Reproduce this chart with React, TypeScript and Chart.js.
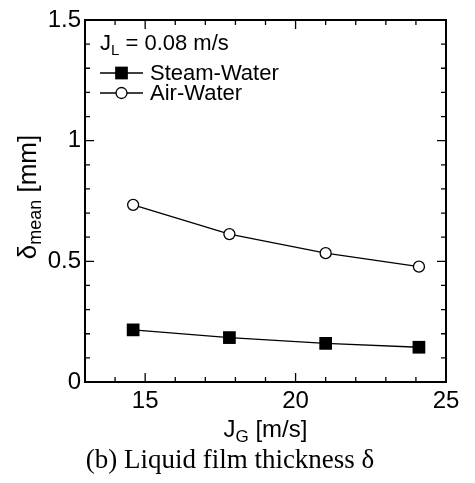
import React, { useEffect, useRef } from "react";
import { Chart, registerables } from "chart.js";

Chart.register(...registerables);

// ---- data ----
const jG = [14.6, 17.8, 21.0, 24.1];
const steamWater = [0.216, 0.184, 0.16, 0.144];
const airWater = [0.734, 0.613, 0.534, 0.478];
const seriesNames = ["Steam-Water", "Air-Water"];
const xTicks = [15, 20, 25];
const xTickLabels = ["15", "20", "25"];
const yTicks = [0, 0.5, 1, 1.5];
const yTickLabels = ["0", "0.5", "1", "1.5"];
const xRange = [13, 25];
const yRange = [0, 1.5];
const conditionText = { main: "J", sub: "L", rest: " = 0.08 m/s" };
const xTitle = { main: "J", sub: "G", rest: " [m/s]" };
const yTitle = { main: "\u03b4", sub: "mean", rest: " [mm]" };
const caption = "(b) Liquid film thickness \u03b4";

const SANS = '"Liberation Sans", Arial, Helvetica, sans-serif';
const SERIF = '"Liberation Serif", "Times New Roman", serif';

const SQ_R = 9;
const CI_R = 5.5;

function drawSubText(
  ctx: CanvasRenderingContext2D,
  parts: { main: string; sub: string; rest: string },
  x: number,
  y: number,
  size: number,
  subSize: number,
  subShift: number,
  align: "left" | "center"
) {
  ctx.textBaseline = "alphabetic";
  ctx.textAlign = "left";
  ctx.font = `${size}px ${SANS}`;
  const w1 = ctx.measureText(parts.main).width;
  const w3 = ctx.measureText(parts.rest).width;
  ctx.font = `${subSize}px ${SANS}`;
  const w2 = ctx.measureText(parts.sub).width;
  const total = w1 + w2 + w3;
  let cx = align === "center" ? x - total / 2 : x;
  ctx.font = `${size}px ${SANS}`;
  ctx.fillText(parts.main, cx, y);
  cx += w1;
  ctx.font = `${subSize}px ${SANS}`;
  ctx.fillText(parts.sub, cx, y + subShift);
  cx += w2;
  ctx.font = `${size}px ${SANS}`;
  ctx.fillText(parts.rest, cx, y);
}

const decorPlugin = {
  id: "decor",
  afterDraw(chart: any) {
    const ctx: CanvasRenderingContext2D = chart.ctx;
    const { left, right, top, bottom } = chart.chartArea;
    const xs = chart.scales.x;
    const ys = chart.scales.y;
    ctx.save();
    ctx.strokeStyle = "#000";
    ctx.fillStyle = "#000";

    // ticks
    ctx.lineWidth = 1.3;
    ctx.beginPath();
    for (let i = xRange[0]; i <= xRange[1]; i++) {
      const px = xs.getPixelForValue(i);
      const len = i % 5 === 0 ? 9 : 5;
      ctx.moveTo(px, bottom);
      ctx.lineTo(px, bottom - len);
      ctx.moveTo(px, top);
      ctx.lineTo(px, top + len);
    }
    for (let i = 0; i <= 15; i++) {
      const py = ys.getPixelForValue(i / 10);
      const len = i % 5 === 0 ? 9 : 5;
      ctx.moveTo(left, py);
      ctx.lineTo(left + len, py);
      ctx.moveTo(right, py);
      ctx.lineTo(right - len, py);
    }
    ctx.stroke();

    // frame
    ctx.lineWidth = 2;
    ctx.strokeRect(left, top, right - left, bottom - top);

    // legend
    drawSubText(ctx, conditionText, 100, 50, 22, 15, 5, "left");
    const rows = [73, 93];
    rows.forEach((ry, k) => {
      ctx.lineWidth = 1.3;
      ctx.beginPath();
      ctx.moveTo(100, ry);
      ctx.lineTo(143, ry);
      ctx.stroke();
      const mx = 121.5;
      if (k === 0) {
        const s = SQ_R * Math.SQRT1_2;
        ctx.fillStyle = "#000";
        ctx.fillRect(mx - s, ry - s, 2 * s, 2 * s);
      } else {
        ctx.beginPath();
        ctx.arc(mx, ry, CI_R, 0, Math.PI * 2);
        ctx.fillStyle = "#fff";
        ctx.fill();
        ctx.lineWidth = 1.3;
        ctx.stroke();
      }
      ctx.fillStyle = "#000";
      ctx.font = `22px ${SANS}`;
      ctx.textAlign = "left";
      ctx.textBaseline = "middle";
      ctx.fillText(seriesNames[k], 150, ry + 1);
    });

    // x title
    const cxPlot = (left + right) / 2;
    drawSubText(ctx, xTitle, cxPlot, 437, 24, 17, 5, "center");

    // y title
    ctx.save();
    ctx.translate(36, 197);
    ctx.rotate(-Math.PI / 2);
    drawSubText(ctx, yTitle, 0, 0, 26, 18, 5, "center");
    ctx.restore();

    // caption
    ctx.font = `27px ${SERIF}`;
    ctx.textAlign = "center";
    ctx.textBaseline = "alphabetic";
    ctx.fillText(caption, 230, 468);

    ctx.restore();
  },
};

export default function App() {
  const ref = useRef<HTMLCanvasElement | null>(null);
  useEffect(() => {
    if (!ref.current) return;
    const chart = new Chart(ref.current, {
      type: "line",
      data: {
        datasets: [
          {
            label: seriesNames[0],
            data: jG.map((x, i) => ({ x, y: steamWater[i] })),
            borderColor: "#000",
            borderWidth: 1.3,
            pointStyle: "rect",
            pointRadius: SQ_R,
            pointBackgroundColor: "#000",
            pointBorderColor: "#000",
            pointBorderWidth: 0,
            tension: 0,
          },
          {
            label: seriesNames[1],
            data: jG.map((x, i) => ({ x, y: airWater[i] })),
            borderColor: "#000",
            borderWidth: 1.3,
            pointStyle: "circle",
            pointRadius: CI_R,
            pointBackgroundColor: "#fff",
            pointBorderColor: "#000",
            pointBorderWidth: 1.3,
            tension: 0,
          },
        ],
      },
      options: {
        responsive: false,
        maintainAspectRatio: false,
        animation: false,
        devicePixelRatio: 1,
        layout: { padding: { top: 20, right: 29, left: 0, bottom: 0 } },
        plugins: { legend: { display: false }, tooltip: { enabled: false } },
        scales: {
          x: {
            type: "linear",
            position: "bottom",
            min: xRange[0],
            max: xRange[1],
            grid: { display: false, drawTicks: false },
            border: { display: false },
            afterBuildTicks: (s: any) => {
              s.ticks = xTicks.map((value) => ({ value }));
            },
            afterFit: (s: any) => {
              s.height = 101;
            },
            ticks: {
              padding: 5,
              color: "#000",
              font: { family: SANS, size: 24 },
              maxRotation: 0,
              autoSkip: false,
              callback: (v: any) => xTickLabels[xTicks.indexOf(Number(v))] ?? "",
            },
          },
          y: {
            type: "linear",
            position: "left",
            min: yRange[0],
            max: yRange[1],
            grid: { display: false, drawTicks: false },
            border: { display: false },
            afterBuildTicks: (s: any) => {
              s.ticks = yTicks.map((value) => ({ value }));
            },
            afterFit: (s: any) => {
              s.width = 85;
            },
            ticks: {
              padding: 4,
              color: "#000",
              font: { family: SANS, size: 24 },
              autoSkip: false,
              callback: (v: any) => yTickLabels[yTicks.indexOf(Number(v))] ?? "",
            },
          },
        },
      },
      plugins: [decorPlugin],
    } as any);
    return () => chart.destroy();
  }, []);
  return (
    <div style={{ position: "absolute", left: 0, top: 0, width: 475, height: 483, background: "#fff" }}>
      <canvas ref={ref} width={475} height={483} style={{ display: "block" }} />
    </div>
  );
}
